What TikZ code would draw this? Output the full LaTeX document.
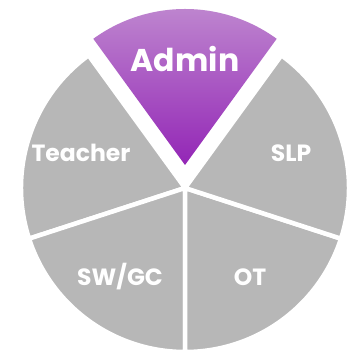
\documentclass[tikz,border=0pt]{standalone}
\usepackage{fontspec}
\setmainfont{Poppins}
\definecolor{pgray}{RGB}{183,183,183}
\definecolor{ptop}{RGB}{192,138,208}
\definecolor{pbot}{RGB}{147,38,182}
\begin{document}
\begin{tikzpicture}[x=1pt,y=1pt,
  graysector/.style={fill=pgray,draw=white,line width=4.5pt,line join=miter},
  lbl/.style={text=white,font=\fontsize{23.5}{26}\selectfont\bfseries,anchor=base,inner sep=0pt},
  biglbl/.style={text=white,font=\fontsize{31.5}{34}\selectfont\bfseries,anchor=base,inner sep=0pt}]
\useasboundingbox (0,0) rectangle (354,350);
\fill[white] (0,0) rectangle (354,350);
\coordinate (C) at (185,162);
\coordinate (A) at (185,185);
% gray sectors
\draw[graysector] (C) -- ++(126:164) arc[start angle=126,end angle=198,radius=164] -- cycle;
\draw[graysector] (C) -- ++(198:164) arc[start angle=198,end angle=270,radius=164] -- cycle;
\draw[graysector] (C) -- ++(270:164) arc[start angle=270,end angle=342,radius=164] -- cycle;
\draw[graysector] (C) -- ++(-18:164) arc[start angle=-18,end angle=54,radius=164] -- cycle;
% admin sector
\shade[top color=ptop,bottom color=pbot] (A) -- ++(54:156) arc[start angle=54,end angle=126,radius=156] -- cycle;
% labels
\node[biglbl] (admin) at (185,278) {Admin};
\node[lbl] (teacher) at (81,188) {Teacher};
\node[lbl] (slp) at (291,188) {SLP};
\node[lbl] (swgc) at (120,64) {SW/GC};
\node[lbl] (ot) at (250,64) {OT};
\end{tikzpicture}
\end{document}
